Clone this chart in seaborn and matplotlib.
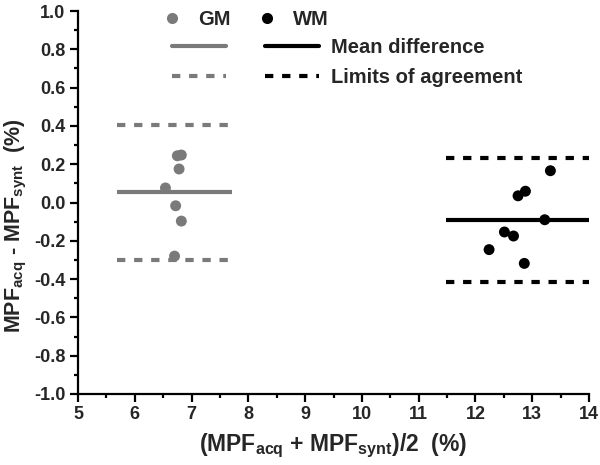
import numpy as np
import pandas as pd
import matplotlib
matplotlib.use("Agg")
import matplotlib.pyplot as plt
import seaborn as sns
from matplotlib.lines import Line2D
from matplotlib.ticker import MultipleLocator, FormatStrFormatter

# Bland-Altman data
gm_mean_x = [6.75, 6.82, 6.78, 6.54, 6.72, 6.82, 6.70]
gm_diff = [0.244, 0.248, 0.175, 0.076, -0.017, -0.097, -0.280]
wm_mean_x = [13.32, 12.88, 12.75, 13.22, 12.51, 12.67, 12.24, 12.86]
wm_diff = [0.166, 0.059, 0.035, -0.090, -0.154, -0.175, -0.246, -0.318]

groups = ["GM", "WM"]
bias = [0.054, -0.090]
loa_upper = [0.405, 0.232]
loa_lower = [-0.298, -0.414]
line_span = [(5.68, 7.72), (11.48, 14.0)]

grey = "#7a7a7a"
palette = {"GM": grey, "WM": "black"}

df = pd.DataFrame({
    "avg": gm_mean_x + wm_mean_x,
    "diff": gm_diff + wm_diff,
    "group": ["GM"] * len(gm_diff) + ["WM"] * len(wm_diff),
})

sns.set_style("ticks")
plt.rcParams["font.family"] = ["Liberation Sans", "DejaVu Sans"]
plt.rcParams["font.weight"] = "bold"
plt.rcParams["mathtext.fontset"] = "custom"
plt.rcParams["mathtext.rm"] = "Liberation Sans:bold"
plt.rcParams["mathtext.it"] = "Liberation Sans:bold"
plt.rcParams["mathtext.bf"] = "Liberation Sans:bold"
plt.rcParams["mathtext.default"] = "rm"

fig = plt.figure(figsize=(6, 4.65), dpi=100)
ax = fig.add_axes([0.13, 0.1527, 0.8517, 0.8236])

sns.scatterplot(data=df, x="avg", y="diff", hue="group", palette=palette,
                s=62, linewidth=0, ax=ax, legend=False, zorder=3)

dash = (0, (2.0, 2.1))
for g, b, up, lo, (x0, x1) in zip(groups, bias, loa_upper, loa_lower, line_span):
    c = palette[g]
    ax.hlines(b, x0, x1, colors=c, lw=3.0, zorder=2)
    ax.hlines([up, lo], x0, x1, colors=c, lw=3.0, linestyles=[dash], zorder=2)

ax.set_xlim(5, 14)
ax.set_ylim(-1.0, 1.0)
ax.xaxis.set_major_locator(MultipleLocator(1))
ax.xaxis.set_minor_locator(MultipleLocator(0.5))
ax.yaxis.set_major_locator(MultipleLocator(0.2))
ax.yaxis.set_minor_locator(MultipleLocator(0.1))
ax.yaxis.set_major_formatter(FormatStrFormatter("%.1f"))
ax.tick_params(which="major", direction="out", length=6, width=1.6,
               labelsize=13, color="black", pad=3)
ax.tick_params(which="minor", direction="out", length=3, width=1.6, color="black")
for lab in ax.get_xticklabels() + ax.get_yticklabels():
    lab.set_fontweight("bold")
for s in ["left", "bottom"]:
    ax.spines[s].set_linewidth(1.6)
    ax.spines[s].set_color("black")
sns.despine(ax=ax)

ax.set_xlabel(r"(MPF$_{acq}$ + MPF$_{synt}$)/2  (%)", fontsize=16.5,
              fontweight="bold", labelpad=6)
ax.set_ylabel(r"MPF$_{acq}$ - MPF$_{synt}$  (%)", fontsize=15.5,
              fontweight="bold")
ax.yaxis.set_label_coords(-0.096, 0.44)

# legend: markers row
marker_handles = [Line2D([], [], ls="none", marker="o", ms=8, mew=0,
                         color=palette[g]) for g in groups]
leg1 = fig.legend(marker_handles, groups, loc="center left",
                  bbox_to_anchor=(166 / 600, 1 - 19.5 / 465), ncol=2,
                  frameon=False, handlelength=0.6,
                  handletextpad=1.0, columnspacing=1.5, borderpad=0,
                  borderaxespad=0, prop={"weight": "bold", "size": 14.5})

# legend: line rows
line_handles = [
    Line2D([], [], color=grey, lw=3.0),
    Line2D([], [], color=grey, lw=3.0, ls=dash),
    Line2D([], [], color="black", lw=3.0),
    Line2D([], [], color="black", lw=3.0, ls=dash),
]
line_labels = ["", "", "Mean difference", "Limits of agreement"]
leg2 = fig.legend(line_handles, line_labels, loc="center left",
                  bbox_to_anchor=(172 / 600, 1 - 62.5 / 465), ncol=2,
                  frameon=False, handlelength=2.7, handletextpad=0.6,
                  columnspacing=1.3, labelspacing=0.56, borderpad=0,
                  borderaxespad=0, prop={"weight": "bold", "size": 14.5})

fig.savefig("out.png", dpi=100)
